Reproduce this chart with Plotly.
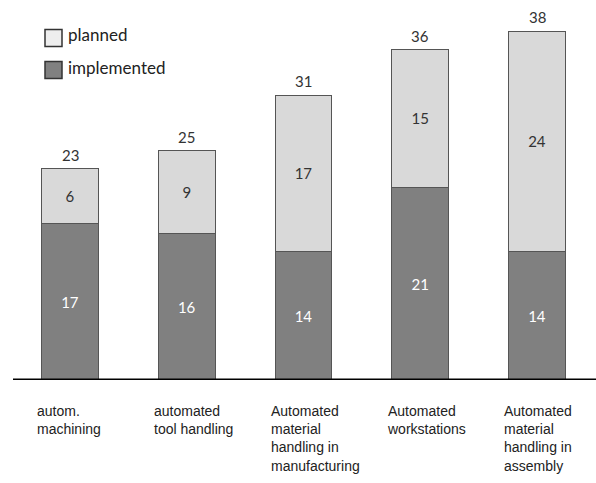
import plotly.graph_objects as go

categories = [
    "autom.<br>machining",
    "automated<br>tool handling",
    "Automated<br>material<br>handling in<br>manufacturing",
    "Automated<br>workstations",
    "Automated<br>material<br>handling in<br>assembly",
]
implemented = [17, 16, 14, 21, 14]
planned = [6, 9, 17, 15, 24]
totals = [i + p for i, p in zip(implemented, planned)]

xpos = list(range(len(categories)))
bar_font = "Lato, 'Open Sans', sans-serif"
label_font = "'Liberation Sans', Arial, sans-serif"

fig = go.Figure()
fig.add_trace(go.Bar(
    x=xpos, y=implemented, name="implemented",
    marker=dict(color="#808080", line=dict(color="#555555", width=1)),
    width=0.485,
    text=[str(v) for v in implemented], textposition="inside",
    insidetextanchor="middle",
    textfont=dict(family=bar_font, size=15, color="white"),
))
fig.add_trace(go.Bar(
    x=xpos, y=planned, name="planned",
    marker=dict(color="#d9d9d9", line=dict(color="#555555", width=1)),
    width=0.485,
    text=[str(v) for v in planned], textposition="inside",
    insidetextanchor="middle",
    textfont=dict(family=bar_font, size=15, color="#333333"),
))

# totals above each stack
for x, t in zip(xpos, totals):
    fig.add_annotation(x=x, y=t, text=str(t), showarrow=False, yanchor="bottom",
                       yshift=3, font=dict(family=bar_font, size=15, color="#333333"))

# category labels, left aligned below the baseline
for x, c in zip(xpos, categories):
    fig.add_annotation(x=x, y=0, text=c, showarrow=False, xanchor="left", yanchor="top",
                       xshift=-35, yshift=-21, align="left",
                       font=dict(family=label_font, size=14, color="#222222"))

# baseline
fig.add_shape(type="line", xref="paper", yref="y", x0=13 / 596, x1=1, y0=0, y1=0,
              line=dict(color="black", width=3))

# legend drawn as boxes with labels
legend_items = [("planned", "#eeeeee", 38), ("implemented", "#808080", 70)]
for name, col, yc in legend_items:
    fig.add_shape(type="rect", xref="paper", yref="paper",
                  x0=45 / 596, x1=62 / 596,
                  y0=1 - (yc - 8.5) / 380,
                  y1=1 - (yc + 8.5) / 380,
                  line=dict(color="#333333", width=1.5), fillcolor=col)
    fig.add_annotation(xref="paper", yref="paper", x=66 / 596, y=1 - (yc - 3) / 380,
                       text=name, showarrow=False, xanchor="left", yanchor="middle",
                       font=dict(family=bar_font, size=17, color="#222222"))

spacing = 116.75
fig.update_layout(
    barmode="stack",
    width=596, height=483,
    margin=dict(l=0, r=0, t=0, b=103),
    plot_bgcolor="white", paper_bgcolor="white",
    showlegend=False,
    xaxis=dict(range=[-70 / spacing, (596 - 70) / spacing], visible=False),
    yaxis=dict(range=[0, 380 / 9.18], visible=False),
)
fig.write_html("out.html")
